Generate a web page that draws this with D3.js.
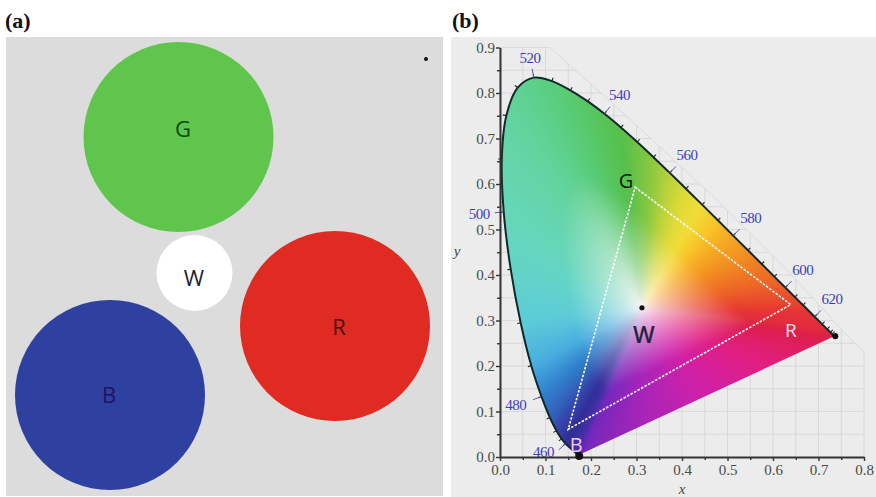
<!DOCTYPE html>
<html><head><meta charset="utf-8">
<script src="https://cdn.jsdelivr.net/npm/d3@7"></script>
<style>body{margin:0;background:#fff}svg{display:block}</style>
</head><body>
<svg id="c" width="876" height="497"></svg>
<script>
// ================= DATA =================
// Panel (a): LED colour patches
const patchNames = ["G", "W", "R", "B"];
// Panel (b): CIE 1931 spectral locus
const wavelengths = [380,400,420,440,450,460,465,470,475,480,485,490,495,500,505,510,515,520,525,530,535,540,545,550,555,560,565,570,575,580,585,590,595,600,605,610,620,630,640,650,660,680,700];
const locusX = [0.1741,0.1733,0.1714,0.1644,0.1566,0.1440,0.1355,0.1241,0.1096,0.0913,0.0687,0.0454,0.0235,0.0082,0.0039,0.0139,0.0389,0.0743,0.1142,0.1547,0.1929,0.2296,0.2658,0.3016,0.3373,0.3731,0.4087,0.4441,0.4788,0.5125,0.5448,0.5752,0.6029,0.6270,0.6482,0.6658,0.6915,0.7079,0.7190,0.7260,0.7300,0.7334,0.7347];
const locusY = [0.0050,0.0048,0.0051,0.0109,0.0177,0.0297,0.0399,0.0578,0.0868,0.1327,0.2007,0.2950,0.4127,0.5384,0.6548,0.7502,0.8120,0.8338,0.8262,0.8059,0.7816,0.7543,0.7243,0.6923,0.6589,0.6245,0.5896,0.5547,0.5202,0.4866,0.4544,0.4242,0.3965,0.3725,0.3514,0.3340,0.3083,0.2920,0.2809,0.2740,0.2700,0.2666,0.2653];
const labelWavelengths = [460,480,500,520,540,560,580,600,620];
const primaryNames = ["G", "R", "B"];
const primaryX = [0.297, 0.639, 0.150];
const primaryY = [0.593, 0.335, 0.061];
const whitePoint = [0.312, 0.328];
const xTickValues = [0,0.1,0.2,0.3,0.4,0.5,0.6,0.7,0.8];
const yTickValues = [0,0.1,0.2,0.3,0.4,0.5,0.6,0.7,0.8,0.9];
const xMinorTicks = [0.05,0.15,0.25,0.35,0.45,0.55,0.65,0.75];
const yMinorTicks = [0.05,0.15,0.25,0.35,0.45,0.55,0.65,0.75,0.85];
// faint background-grid boundary (chromaticity units)
const hullX = [0, 0, 0.11, 0.25, 0.32, 0.465, 0.648, 0.76, 0.8, 0.8];
const hullY = [0, 0.9, 0.9, 0.775, 0.71, 0.576, 0.393, 0.27, 0.23, 0];

// ================= STYLE / LAYOUT =================
const patchLayout = {
  G: {cx: 178.5, cy: 137, r: 95, fill: "#5fc54c", text: "#0c4a14", tx: 183, ty: 129},
  W: {cx: 194.5, cy: 273, r: 38, fill: "#ffffff", text: "#1e2430", tx: 194, ty: 278},
  R: {cx: 335, cy: 326, r: 95, fill: "#df2b21", text: "#4a1010", tx: 339, ty: 327},
  B: {cx: 110, cy: 395, r: 95, fill: "#2e40a0", text: "#221262", tx: 109, ty: 395}
};
const primaryLabelStyle = {
  G: {dx: -9, dy: -6, fill: "#101a10", size: 20},
  R: {dx: 0, dy: 26, fill: "#fbe0ec", size: 19},
  B: {dx: 8, dy: 16, fill: "#f4c8f4", size: 20}
};
const wlLabelNudge = {460: [-4, -9], 480: [-2, 0]};
const wlStops  = [380,450,460,470,480,485,490,495,500,510,520,530,545,555,560,565,570,575,580,590,600,610,620,700];
const wlColors = ['#6a28b8','#3a30a0','#302c98','#3444aa','#3080cc','#48aee0','#5ccbd8','#62d4c8','#66d6b8','#62d4a0','#5ccf88','#58ca70','#55c04a','#8cc840','#b8d23a','#dcda38','#f2dc38','#f8c42a','#f6a822','#f07c22','#ec5a2a','#e8402e','#e4303a','#dc1e48'];
const purpleStops = [0, 0.25, 0.5, 0.75, 1];
const purpleColors = ['#7028bc','#a824b8','#d020a8','#e21e80','#dc1e48'];
const centerColor = [252, 247, 248];

const svg = d3.select("#c");
const serif = "'Liberation Serif','Times New Roman',serif";
const sans = "'Open Sans','DejaVu Sans',sans-serif";

// ================= PANEL (a) =================
svg.append("rect").attr("x", 6).attr("y", 37).attr("width", 437).attr("height", 459).attr("fill", "#dcdcdc");
svg.append("text").attr("x", 5).attr("y", 28).attr("font-family", serif).attr("font-weight", "bold")
  .attr("font-size", 22).attr("fill", "#111").text("(a)");
const pa = svg.append("g");
pa.selectAll("circle.patch").data(patchNames).join("circle").attr("class", "patch")
  .attr("cx", d => patchLayout[d].cx).attr("cy", d => patchLayout[d].cy).attr("r", d => patchLayout[d].r)
  .attr("fill", d => patchLayout[d].fill);
pa.selectAll("text.patch").data(patchNames).join("text").attr("class", "patch")
  .attr("x", d => patchLayout[d].tx).attr("y", d => patchLayout[d].ty).attr("dy", "0.36em")
  .attr("text-anchor", "middle").attr("font-family", sans).attr("font-size", 22)
  .attr("fill", d => patchLayout[d].text).text(d => d);
pa.append("circle").attr("cx", 426).attr("cy", 59).attr("r", 2).attr("fill", "#111");

// ================= PANEL (b) =================
svg.append("rect").attr("x", 451).attr("y", 37).attr("width", 425).attr("height", 460).attr("fill", "#ececec");
svg.append("text").attr("x", 452).attr("y", 28).attr("font-family", serif).attr("font-weight", "bold")
  .attr("font-size", 22).attr("fill", "#111").text("(b)");

const xs = d3.scaleLinear().domain([0, 0.8]).range([500, 864]);
const ys = d3.scaleLinear().domain([0, 0.9]).range([457, 47.5]);
const gb = svg.append("g");
const defs = svg.append("defs");

// faint grid clipped to hull
const hullPts = hullX.map((d, i) => [xs(d), ys(hullY[i])]);
defs.append("clipPath").attr("id", "hullClip").append("path").attr("d", "M" + hullPts.join("L") + "Z");
const grid = gb.append("g").attr("clip-path", "url(#hullClip)");
const gridX = d3.range(1, 16).map(k => k * 0.05), gridY = d3.range(1, 18).map(k => k * 0.05);
grid.selectAll("line.gx").data(gridX).join("line").attr("x1", d => xs(d)).attr("x2", d => xs(d))
  .attr("y1", ys(0)).attr("y2", ys(0.9)).attr("stroke", "#d4d4d4").attr("stroke-width", 0.8);
grid.selectAll("line.gy").data(gridY).join("line").attr("y1", d => ys(d)).attr("y2", d => ys(d))
  .attr("x1", xs(0)).attr("x2", xs(0.8)).attr("stroke", "#d4d4d4").attr("stroke-width", 0.8);
gb.append("path").attr("d", "M" + hullPts.join("L")).attr("fill", "none").attr("stroke", "#d6d6d6").attr("stroke-width", 0.8);

// locus geometry
const P = locusX.map((d, i) => [xs(d), ys(locusY[i])]);
const n = P.length;
const wp = [xs(whitePoint[0]), ys(whitePoint[1])];
const locusLine = d3.line().curve(d3.curveCatmullRom.alpha(0.5));
const locusPath = locusLine(P) + "Z";
defs.append("clipPath").attr("id", "locusClip").append("path").attr("d", locusPath);

// colour lookup tables (fine steps, interpolated)
const wlScale = d3.scaleLinear().domain(wlStops).range(wlColors).interpolate(d3.interpolateRgb);
const wlLut = d3.range(0, 3201).map(k => { const c = d3.rgb(wlScale(380 + k / 10)); return [c.r, c.g, c.b]; });
const puScale = d3.scaleLinear().domain(purpleStops).range(purpleColors).interpolate(d3.interpolateRgb);
const puLut = d3.range(0, 1001).map(t => { const c = d3.rgb(puScale(t / 1000)); return [c.r, c.g, c.b]; });

function hit(dx, dy) {
  let best = Infinity, bi = -1, bu = 0;
  for (let i = 0; i < n; i++) {
    const A = P[i], B = P[(i + 1) % n];
    const ex = B[0] - A[0], ey = B[1] - A[1];
    const den = dx * ey - dy * ex;
    if (Math.abs(den) < 1e-12) continue;
    const ax = A[0] - wp[0], ay = A[1] - wp[1];
    const t = (ax * ey - ay * ex) / den;
    const u = (ax * dy - ay * dx) / den;
    if (t > 0 && u >= -1e-9 && u <= 1 + 1e-9 && t < best) { best = t; bi = i; bu = u; }
  }
  return [best, bi, bu];
}

const pad = 6;
const bx0 = Math.floor(xs(0)) - pad, bx1 = Math.ceil(xs(0.745)) + pad;
const by0 = Math.floor(ys(0.845)) - pad, by1 = Math.ceil(ys(0)) + pad;
const CW = bx1 - bx0, CH = by1 - by0;
const cv = document.createElement("canvas"); cv.width = CW; cv.height = CH;
const ctx = cv.getContext("2d");
const img = ctx.createImageData(CW, CH);
for (let j = 0; j < CH; j++) {
  for (let i = 0; i < CW; i++) {
    const px = bx0 + i + 0.5, py = by0 + j + 0.5;
    const dx = px - wp[0], dy = py - wp[1];
    let col, r;
    if (Math.abs(dx) < 0.01 && Math.abs(dy) < 0.01) { col = centerColor; r = 0; }
    else {
      const [t, bi, bu] = hit(dx, dy);
      if (bi < 0) { col = centerColor; r = 1; }
      else {
        r = 1 / t;
        if (bi === n - 1) {
          col = puLut[Math.max(0, Math.min(1000, Math.round((1 - bu) * 1000)))];
        } else {
          const w = wavelengths[bi] + bu * (wavelengths[bi + 1] - wavelengths[bi]);
          col = wlLut[Math.max(0, Math.min(3200, Math.round((w - 380) * 10)))];
        }
      }
    }
    const s = Math.pow(Math.min(1, r * 1.75), 0.75);
    const k = (j * CW + i) * 4;
    img.data[k] = centerColor[0] * (1 - s) + col[0] * s;
    img.data[k + 1] = centerColor[1] * (1 - s) + col[1] * s;
    img.data[k + 2] = centerColor[2] * (1 - s) + col[2] * s;
    img.data[k + 3] = 255;
  }
}
ctx.putImageData(img, 0, 0);
// soften radial banding
const cv2 = document.createElement("canvas"); cv2.width = CW; cv2.height = CH;
const ctx2 = cv2.getContext("2d");
ctx2.filter = "blur(2px)";
ctx2.drawImage(cv, 0, 0);
gb.append("image").attr("x", bx0).attr("y", by0).attr("width", CW).attr("height", CH)
  .attr("href", cv2.toDataURL()).attr("clip-path", "url(#locusClip)");

// locus outline
gb.append("path").attr("d", locusLine(P)).attr("fill", "none").attr("stroke", "#14282a").attr("stroke-width", 2);

// outward normals
function normalAt(i) {
  const a = P[Math.max(0, i - 1)], b = P[Math.min(n - 1, i + 1)];
  let tx = b[0] - a[0], ty = b[1] - a[1];
  const L = Math.hypot(tx, ty) || 1; tx /= L; ty /= L;
  let nx = ty, ny = -tx;
  if (nx * (P[i][0] - wp[0]) + ny * (P[i][1] - wp[1]) < 0) { nx = -nx; ny = -ny; }
  return [nx, ny];
}
const tickIdx = d3.range(n).filter(i => wavelengths[i] >= 460);
gb.selectAll("line.lt").data(tickIdx).join("line")
  .attr("x1", i => P[i][0]).attr("y1", i => P[i][1])
  .attr("x2", i => P[i][0] + normalAt(i)[0] * 3.5).attr("y2", i => P[i][1] + normalAt(i)[1] * 3.5)
  .attr("stroke", "#222").attr("stroke-width", 1.1);
const labIdx = labelWavelengths.map(w => wavelengths.indexOf(w));
gb.selectAll("line.ll").data(labIdx).join("line")
  .attr("x1", i => P[i][0]).attr("y1", i => P[i][1])
  .attr("x2", i => P[i][0] + normalAt(i)[0] * 9).attr("y2", i => P[i][1] + normalAt(i)[1] * 9)
  .attr("stroke", "#5858a8").attr("stroke-width", 1);
const labDist = nn => 12 + 12 * Math.abs(nn[0]) + 6 * Math.abs(nn[1]);
gb.selectAll("text.wl").data(labIdx).join("text")
  .attr("x", i => { const nn = normalAt(i); return P[i][0] + nn[0] * labDist(nn) + (wlLabelNudge[wavelengths[i]] || [0, 0])[0]; })
  .attr("y", i => { const nn = normalAt(i); return P[i][1] + nn[1] * labDist(nn) + (wlLabelNudge[wavelengths[i]] || [0, 0])[1]; })
  .attr("dy", "0.35em").attr("text-anchor", "middle").attr("font-family", serif).attr("font-size", 15)
  .attr("letter-spacing", -0.5).attr("fill", "#3c3cc4").text(i => wavelengths[i]);

// gamut triangle
const triPts = primaryX.map((d, i) => [xs(d), ys(primaryY[i])]);
gb.append("path").attr("d", "M" + triPts.join("L") + "Z").attr("fill", "none")
  .attr("stroke", "#ffffff").attr("stroke-width", 1.6).attr("stroke-dasharray", "2.5,1.5");
gb.selectAll("text.pn").data(primaryNames).join("text")
  .attr("x", (d, i) => triPts[i][0] + primaryLabelStyle[d].dx)
  .attr("y", (d, i) => triPts[i][1] + primaryLabelStyle[d].dy)
  .attr("dy", "0.36em").attr("text-anchor", "middle").attr("font-family", sans)
  .attr("font-size", d => primaryLabelStyle[d].size).attr("fill", d => primaryLabelStyle[d].fill).text(d => d);
// white point
gb.append("circle").attr("cx", wp[0]).attr("cy", wp[1]).attr("r", 2.6).attr("fill", "#111");
gb.append("text").attr("x", wp[0] + 2).attr("y", wp[1] + 27).attr("dy", "0.36em").attr("text-anchor", "middle")
  .attr("font-family", sans).attr("font-size", 23).attr("font-weight", 600).attr("fill", "#2a2438").text("W");

// axes
const axStyle = g => {
  g.selectAll(".domain").attr("stroke", "#333").attr("stroke-width", 2);
  g.selectAll(".tick line").attr("stroke", "#333").attr("stroke-width", 1.4);
  g.selectAll(".tick text").attr("font-family", serif).attr("font-size", 15).attr("fill", "#4a4a4a");
};
const xAxisG = gb.append("g").attr("transform", `translate(0,${ys(0)})`)
  .call(d3.axisBottom(xs).tickValues(xTickValues).tickFormat(d3.format(".1f")).tickSize(4).tickPadding(3).tickSizeOuter(0));
axStyle(xAxisG);
const xMinorG = gb.append("g").attr("transform", `translate(0,${ys(0)})`)
  .call(d3.axisBottom(xs).tickValues(xMinorTicks).tickFormat("").tickSize(3).tickSizeOuter(0));
xMinorG.select(".domain").remove(); xMinorG.selectAll(".tick line").attr("stroke", "#333").attr("stroke-width", 1.4);
const yAxisG = gb.append("g").attr("transform", `translate(${xs(0)},0)`)
  .call(d3.axisLeft(ys).tickValues(yTickValues).tickFormat(d3.format(".1f")).tickSize(4).tickPadding(1).tickSizeOuter(0));
axStyle(yAxisG);
const yMinorG = gb.append("g").attr("transform", `translate(${xs(0)},0)`)
  .call(d3.axisLeft(ys).tickValues(yMinorTicks).tickFormat("").tickSize(3).tickSizeOuter(0));
yMinorG.select(".domain").remove(); yMinorG.selectAll(".tick line").attr("stroke", "#333").attr("stroke-width", 1.4);
gb.append("text").attr("x", 682).attr("y", 494).attr("text-anchor", "middle").attr("font-family", serif)
  .attr("font-style", "italic").attr("font-size", 15).attr("fill", "#444").text("x");
gb.append("text").attr("x", 457).attr("y", 256).attr("text-anchor", "middle").attr("font-family", serif)
  .attr("font-style", "italic").attr("font-size", 15).attr("fill", "#444").text("y");

// end dots of the locus
gb.append("circle").attr("cx", P[0][0]).attr("cy", ys(0) - 1).attr("r", 4).attr("fill", "#111");
gb.append("circle").attr("cx", P[n - 1][0] + 1).attr("cy", P[n - 1][1]).attr("r", 3).attr("fill", "#111");
</script>
</body></html>
